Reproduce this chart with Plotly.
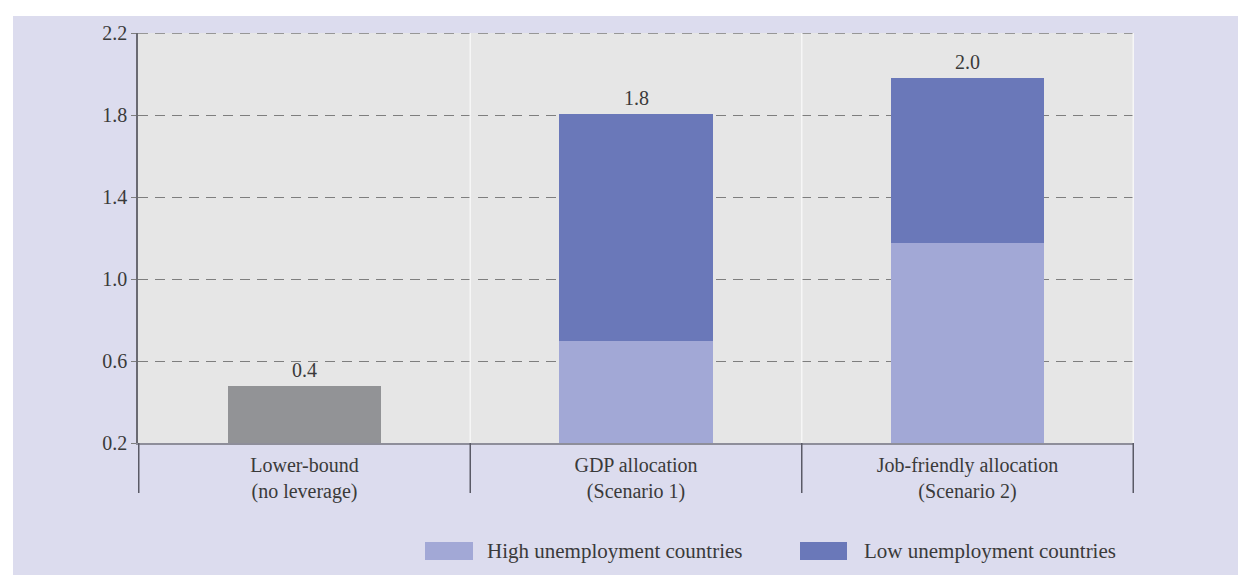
import plotly.graph_objects as go

# ---- data ----
categories = ["Lower-bound<br>(no leverage)", "GDP allocation<br>(Scenario 1)", "Job-friendly allocation<br>(Scenario 2)"]
lower_bound = [0.48, 0, 0]
high_unemp = [0, 0.70, 1.175]
low_unemp = [0, 1.105, 0.805]
bar_labels = ["0.4", "1.8", "2.0"]
series_names = ["High unemployment countries", "Low unemployment countries"]
y_ticks = [0.2, 0.6, 1.0, 1.4, 1.8, 2.2]
y_ticktext = ["0.2", "0.6", "1.0", "1.4", "1.8", "2.2"]

FONT = "Liberation Serif"
TXT = "#3a3a3a"
GRAY_BAR = "#929396"
LIGHT = "#a2a8d6"
DARK = "#6a78b9"
BG = "#dcdcee"
PLOT_BG = "#e6e6e6"
GRID = "#7e7e7e"

fig = go.Figure()
fig.add_trace(go.Bar(x=categories, y=lower_bound, marker=dict(color=GRAY_BAR, line=dict(width=0)),
                     showlegend=False, name="Lower-bound"))
fig.add_trace(go.Bar(x=categories, y=high_unemp, marker=dict(color=LIGHT, line=dict(width=0)),
                     name=series_names[0], showlegend=False))
fig.add_trace(go.Bar(x=categories, y=low_unemp, marker=dict(color=DARK, line=dict(width=0)),
                     name=series_names[1], showlegend=False))

totals = [a + b + c for a, b, c in zip(lower_bound, high_unemp, low_unemp)]
for cat, tot, lab in zip(categories, totals, bar_labels):
    fig.add_annotation(x=cat, y=tot, text=lab, showarrow=False, yanchor="bottom", yshift=3,
                       font=dict(family=FONT, size=20, color=TXT))

# page geometry (page has an 8px body margin)
OFF = 8
W, H = 1246 - OFF, 575 - OFF
PL, PT, PR, PB = 138, 33, 1134, 443  # plot area in page pixels
L, T = PL - OFF, PT - OFF
R, B = 1246 - PR, 575 - PB
pw, ph = PR - PL, PB - PT
def px_x(p):
    return (p - PL) / pw
def px_y(p):
    return (PB - p) / ph

# top gridline (at the range edge)
fig.add_shape(type="line", xref="paper", yref="y", x0=0, x1=1, y0=y_ticks[-1], y1=y_ticks[-1],
              line=dict(color=GRID, width=1.4, dash="10px,7px"), layer="below")

# category separators: white inside plot, dark below the axis
n = len(categories)
for i in range(n + 1):
    xpos = i - 0.5
    if i > 0:
        fig.add_shape(type="line", xref="x", yref="paper", x0=xpos, x1=xpos, y0=0, y1=1,
                      line=dict(color="#f6f6f6", width=1.5), layer="above")
    fig.add_shape(type="line", xref="x", yref="paper", x0=xpos, x1=xpos, y0=0, y1=px_y(493),
                  line=dict(color="#5a5a66", width=1.5), layer="above")

# white outer strips (top and left)
fig.add_shape(type="rect", xref="paper", yref="paper", x0=px_x(0), x1=px_x(1246), y0=px_y(16), y1=px_y(0),
              fillcolor="white", line=dict(width=0), layer="below")
fig.add_shape(type="rect", xref="paper", yref="paper", x0=px_x(0), x1=px_x(13), y0=px_y(575), y1=px_y(0),
              fillcolor="white", line=dict(width=0), layer="below")

# custom legend (large swatches)
legend_items = [(series_names[0], LIGHT, 425, 473, 485), (series_names[1], DARK, 800, 847, 862)]
for name, col, sx0, sx1, tx in legend_items:
    fig.add_shape(type="rect", xref="paper", yref="paper", x0=px_x(sx0), x1=px_x(sx1),
                  y0=px_y(560), y1=px_y(542), fillcolor=col, line=dict(width=0))
    fig.add_annotation(xref="paper", yref="paper", x=px_x(tx), y=px_y(551), text=name,
                       showarrow=False, xanchor="left", yanchor="middle",
                       font=dict(family=FONT, size=21, color=TXT))

fig.update_layout(
    width=W, height=H,
    margin=dict(l=L, r=R, t=T, b=B, pad=0),
    paper_bgcolor=BG, plot_bgcolor=PLOT_BG,
    barmode="stack", bargap=0.536,
    font=dict(family=FONT, size=20, color=TXT),
    showlegend=False,
)
fig.update_yaxes(range=[0.2, 2.2], tickvals=y_ticks, ticktext=y_ticktext,
                 showgrid=True, gridcolor=GRID, gridwidth=1.4, griddash="10px,7px",
                 showline=True, linecolor="#6a6a72", linewidth=1.5,
                 ticks="outside", ticklen=5, tickcolor=GRID, tickwidth=1.4,
                 zeroline=False, tickfont=dict(family=FONT, size=20, color=TXT))
fig.update_xaxes(showgrid=False, showline=True, linecolor="#8e8e9a", linewidth=2,
                 ticks="", tickfont=dict(family=FONT, size=20, color=TXT), ticklabelstandoff=3)

fig.write_html("out.html")
